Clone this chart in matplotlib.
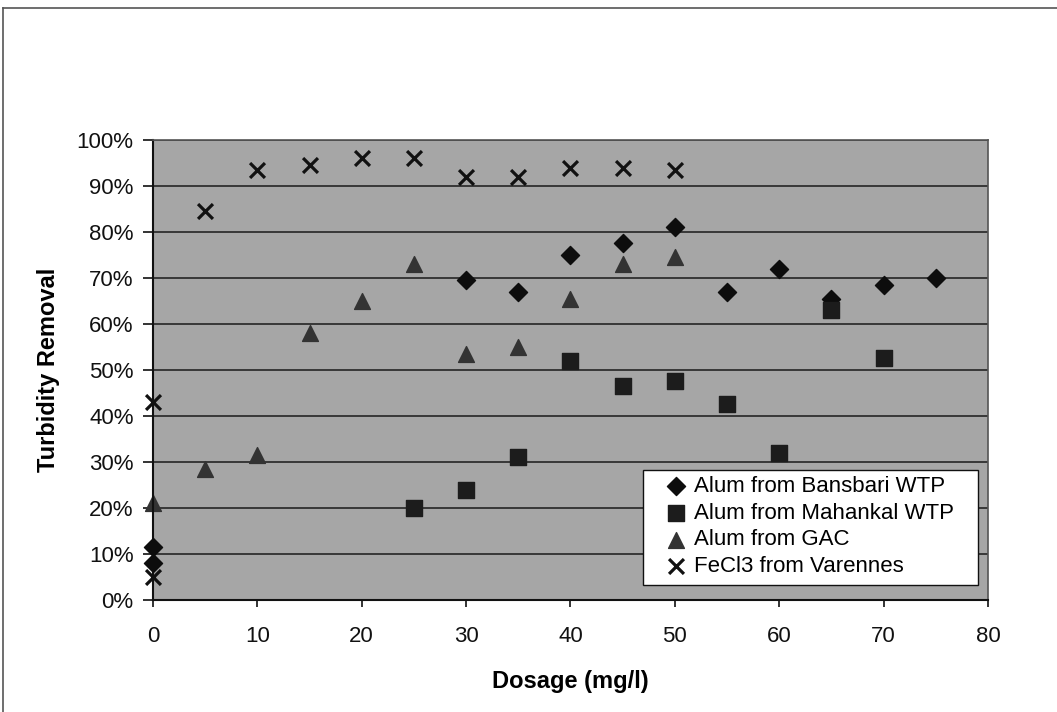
import numpy as np
import matplotlib
matplotlib.use("Agg")
import matplotlib.pyplot as plt
from matplotlib.lines import Line2D
from matplotlib.patches import Rectangle
from matplotlib.ticker import PercentFormatter

plt.rcParams['font.family'] = ['Liberation Sans', 'DejaVu Sans']

# data (dosage in mg/l, removal in %)
bansbari_x = [0, 0, 30, 35, 40, 45, 50, 55, 60, 65, 70, 75]
bansbari_y = [11.5, 8, 69.5, 67, 75, 77.5, 81, 67, 72, 65.5, 68.5, 70]

mahankal_x = [25, 30, 35, 40, 45, 50, 55, 60, 65, 70]
mahankal_y = [20, 24, 31, 52, 46.5, 47.5, 42.5, 32, 63, 52.5]

gac_x = [0, 5, 10, 15, 20, 25, 30, 35, 40, 45, 50]
gac_y = [21, 28.5, 31.5, 58, 65, 73, 53.5, 55, 65.5, 73, 74.5]

fecl3_x = [0, 0, 5, 10, 15, 20, 25, 30, 35, 40, 45, 50]
fecl3_y = [43, 5, 84.5, 93.5, 94.5, 96, 96, 92, 92, 94, 94, 93.5]

labels = ["Alum from Bansbari WTP", "Alum from Mahankal WTP",
          "Alum from GAC", "FeCl3 from Varennes"]

fig = plt.figure(figsize=(10.57, 7.12), dpi=100)

# outer frame of the figure (left and top edges visible)
fig.add_artist(Line2D([0.003, 0.003], [0.0, 0.989], transform=fig.transFigure,
                      color='#555555', linewidth=1.2))
fig.add_artist(Line2D([0.003, 1.0], [0.989, 0.989], transform=fig.transFigure,
                      color='#555555', linewidth=1.2))

ax = fig.add_axes([0.1447, 0.1573, 0.790, 0.6461])
ax.set_facecolor('#a6a6a6')

ax.scatter(bansbari_x, bansbari_y, marker='D', s=85, color='#0d0d0d',
           label=labels[0], zorder=3, clip_on=False)
ax.scatter(mahankal_x, mahankal_y, marker='s', s=125, color='#1c1c1c',
           label=labels[1], zorder=3, clip_on=False)
ax.scatter(gac_x, gac_y, marker='^', s=130, color='#333333',
           label=labels[2], zorder=2, clip_on=False)
ax.scatter(fecl3_x, fecl3_y, marker='x', s=115, color='#111111',
           linewidths=2.3, label=labels[3], zorder=3, clip_on=False)

ax.set_xlim(0, 80)
ax.set_ylim(0, 100)
ax.set_xticks(np.arange(0, 81, 10))
ax.set_yticks(np.arange(0, 101, 10))
ax.yaxis.set_major_formatter(PercentFormatter(decimals=0))
ax.grid(axis='y', color='#1a1a1a', linewidth=1.1)
ax.set_axisbelow(True)

for side in ['left', 'bottom']:
    ax.spines[side].set_color('#111111')
    ax.spines[side].set_linewidth(1.5)
for side in ['right', 'top']:
    ax.spines[side].set_color('#555555')
    ax.spines[side].set_linewidth(1.2)

ax.tick_params(axis='both', direction='out', width=1.2,
               labelsize=16, colors='#111111')
ax.tick_params(axis='y', length=7, pad=7)
ax.tick_params(axis='x', length=5, pad=14)

ax.set_xlabel('Dosage (mg/l)', fontsize=17, fontweight='bold', labelpad=16)
ax.set_ylabel('Turbidity Removal', fontsize=17, fontweight='bold', labelpad=12)

# legend box drawn separately so its padding matches the Excel-style legend
ax.add_patch(Rectangle((0.5868, 0.0326), 0.4012, 0.25, transform=ax.transAxes,
                       facecolor='white', edgecolor='#111111', linewidth=1.0,
                       zorder=4, clip_on=False))
leg = ax.legend(loc='lower left', bbox_to_anchor=(0.5868, 0.0163),
                fontsize=16, frameon=False,
                handletextpad=0.0, handlelength=1.6, borderpad=0.7,
                labelspacing=0.25, borderaxespad=0.0)
leg.set_zorder(5)

fig.savefig('out.png', dpi=100)
